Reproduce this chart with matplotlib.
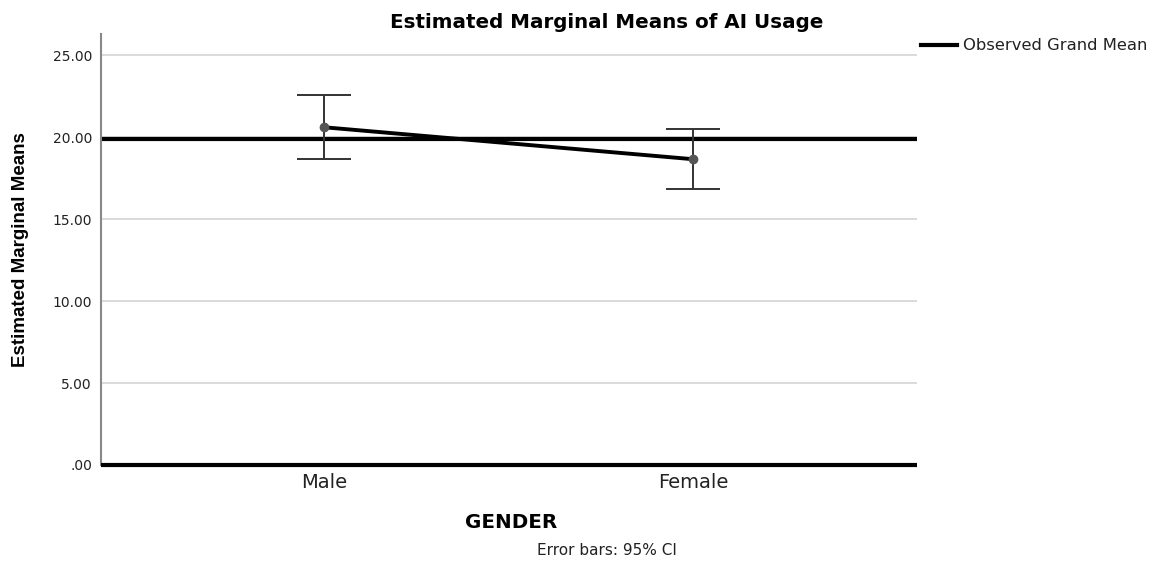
import matplotlib
matplotlib.use("Agg")
import matplotlib.pyplot as plt

genders = ["Male", "Female"]
means = [20.61, 18.66]
ci_low = [18.66, 16.83]
ci_high = [22.56, 20.49]
grand_mean = 19.88
yticks = [0, 5, 10, 15, 20, 25]
ytick_labels = [".00", "5.00", "10.00", "15.00", "20.00", "25.00"]

plt.rcParams['font.family'] = ['DejaVu Sans']

W, H = 1155, 566
fig = plt.figure(figsize=(W / 100, H / 100), dpi=100)
ax = fig.add_axes([101 / W, 1 - 465 / H, 816 / W, 431 / H])

x = list(range(len(genders)))
ax.set_xlim(-0.604, 1.607)
ax.set_ylim(0, 26.3)

# light gridlines, grand mean line, heavy zero line
for t in yticks[1:]:
    ax.axhline(t, color="#d4d4d4", lw=1.2, zorder=0)

ax.axhline(grand_mean, color="black", lw=3, zorder=2)
ax.axhline(0, color="black", lw=3, zorder=3, clip_on=False, solid_capstyle="butt")

err = [[m - lo for m, lo in zip(means, ci_low)], [hi - m for m, hi in zip(means, ci_high)]]
ax.errorbar(x, means, yerr=err, fmt="none", ecolor="#333333", elinewidth=1.4,
            capsize=19.5, capthick=1.4, zorder=4)
ax.plot(x, means, color="black", lw=2.8, zorder=5)
ax.plot(x, means, "o", color="#555555", ms=6, zorder=6)

ax.set_xticks(x)
ax.set_xticklabels(genders, fontsize=14, color="#222222")
ax.set_yticks(yticks)
ax.set_yticklabels(ytick_labels, fontsize=10, color="#222222")
ax.tick_params(length=0, pad=6.5)
ax.tick_params(axis="x", pad=6)

for s in ["top", "right", "bottom"]:
    ax.spines[s].set_visible(False)
ax.spines["left"].set_color("#888888")
ax.spines["left"].set_linewidth(1.5)

fig.text(607 / W, 1 - 28 / H, "Estimated Marginal Means of AI Usage", fontsize=14.3,
         fontweight="bold", ha="center", va="baseline")
fig.text(511 / W, 1 - 528 / H, "GENDER", fontsize=14.3, fontweight="bold",
         ha="center", va="baseline")
fig.text(21 / W, 1 - 250 / H, "Estimated Marginal Means", fontsize=13.5, fontweight="bold",
         rotation=90, ha="center", va="center", family=["Liberation Sans", "DejaVu Sans"])
fig.text(607 / W, 1 - 555 / H, "Error bars: 95% CI", fontsize=11,
         ha="center", va="baseline", color="#222222")

fig.legend(handles=[plt.Line2D([], [], color="black", lw=3)], labels=["Observed Grand Mean"],
           loc="center left", bbox_to_anchor=(921 / W, 1 - 46 / H), frameon=False,
           fontsize=11.8, handlelength=2.2, handletextpad=0.35, borderpad=0, borderaxespad=0,
           labelcolor="#222222")

fig.savefig("out.png", dpi=100)
